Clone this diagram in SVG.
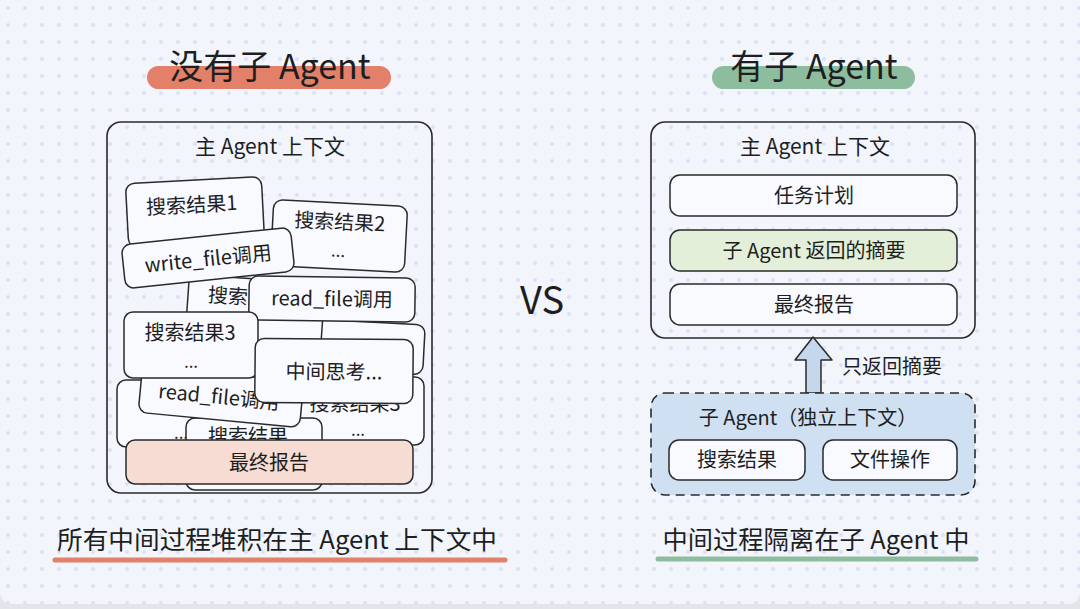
<svg xmlns="http://www.w3.org/2000/svg" width="1080" height="609" viewBox="0 0 1080 609">
<defs>
<pattern id="dots" width="17" height="17" patternUnits="userSpaceOnUse">
<circle cx="8" cy="8" r="2" fill="#dce1f5"/>
<circle cx="0" cy="0" r="1" fill="#f3f1dc"/>
</pattern>
<style>
.t{font-family:"Noto Sans CJK SC","Noto Sans",sans-serif;fill:#1e1e1e;text-anchor:middle}
.card{fill:#f9faff;stroke:#2a2a2a;stroke-width:1.5}
.box{fill:none;stroke:#2a2a2a;stroke-width:1.6}
.c20{font-size:20px}
.dd{font-size:17px}
</style>
</defs>
<rect width="1080" height="609" fill="#e4e5e9"/>
<path d="M0 0H1080V591Q1080 604 1067 604H13Q0 604 0 591Z" fill="#f2f5fc"/>
<path d="M0 0H1080V591Q1080 604 1067 604H13Q0 604 0 591Z" fill="url(#dots)"/>

<g id="title-left">
<rect x="147" y="66" width="244" height="23" rx="11.5" fill="#e2806a"/>
<text class="t" x="270" y="79" font-size="34">没有子 Agent</text>
</g>
<g id="title-right">
<rect x="712" y="66" width="203" height="23" rx="11.5" fill="#8dbc9f"/>
<text class="t" x="814" y="79" font-size="34">有子 Agent</text>
</g>

<g id="left-main">
<rect class="box" x="107" y="122" width="325" height="371" rx="14"/>
<text class="t" x="270" y="154" font-size="21">主 Agent 上下文</text>
</g>

<g id="left-stack">
<g id="card-b-left" transform="translate(181 413)"><rect class="card" x="-64" y="-33" width="128" height="67" rx="9"/><text class="t dd" x="0" y="26">...</text></g>
<g id="card-b-right" transform="translate(358 411)"><rect class="card" x="-66" y="-34" width="132" height="68" rx="9"/><text class="t c20" x="-3" y="0">搜索结果3</text><text class="t dd" x="0" y="25">...</text></g>
<g id="card-a" transform="translate(254 454)"><rect class="card" x="-68" y="-36" width="136" height="72" rx="9"/><text class="t c20" x="-6" y="-10">搜索结果</text></g>
<g id="card-c" transform="translate(221 397) rotate(5.4)"><rect class="card" x="-81" y="-23" width="162" height="46" rx="9"/><text class="t c20" x="-2" y="7">read_file调用</text></g>
<g id="card-k" transform="translate(370 347) rotate(3)"><rect class="card" x="-54" y="-25" width="108" height="50" rx="9"/></g>
<g id="card-d" transform="translate(255 312) rotate(4)"><rect class="card" x="-68" y="-33" width="136" height="66" rx="9"/><text class="t c20" x="-8" y="-7">搜索结果</text></g>
<g id="card-e" transform="translate(195 212) rotate(-3)"><rect class="card" x="-68" y="-32" width="136" height="64" rx="9"/><text class="t c20" x="-3" y="0">搜索结果1</text></g>
<g id="card-f" transform="translate(339 236) rotate(3)"><rect class="card" x="-67" y="-33" width="134" height="66" rx="9"/><text class="t c20" x="0" y="-7">搜索结果2</text><text class="t dd" x="0" y="21">...</text></g>
<g id="card-g" transform="translate(208 258) rotate(-6)"><rect class="card" x="-85" y="-22" width="170" height="44" rx="9"/><text class="t c20" x="0" y="8">write_file调用</text></g>
<g id="card-h" transform="translate(332 299) rotate(0.8)"><rect class="card" x="-83" y="-22" width="166" height="44" rx="9"/><text class="t c20" x="0" y="7">read_file调用</text></g>
<g id="card-i" transform="translate(191 345)"><rect class="card" x="-67" y="-33" width="134" height="66" rx="9"/><text class="t c20" x="-1" y="-5">搜索结果3</text><text class="t dd" x="0" y="23">...</text></g>
<g id="card-j" transform="translate(334 371) rotate(0.5)"><rect class="card" x="-79" y="-32" width="158" height="64" rx="9"/><text class="t c20" x="0" y="8">中间思考...</text></g>
<g id="left-final"><rect x="126" y="440" width="287" height="44" rx="9" fill="#f6dcd3" stroke="#2a2a2a" stroke-width="1.5"/><text class="t c20" x="269" y="470">最终报告</text></g>
</g>

<g id="vs"><text class="t" x="542" y="314" font-size="38" font-family="Liberation Sans, sans-serif">VS</text></g>

<g id="right-main">
<rect class="box" x="651" y="122" width="324" height="216" rx="14"/>
<text class="t" x="815" y="154" font-size="21">主 Agent 上下文</text>
</g>
<g id="item-plan"><rect x="670" y="175" width="287" height="41" rx="10" fill="#f9faff" stroke="#2a2a2a" stroke-width="1.5"/><text class="t c20" x="814" y="203">任务计划</text></g>
<g id="item-summary"><rect x="670" y="230" width="287" height="41" rx="10" fill="#e3efd9" stroke="#2a2a2a" stroke-width="1.5"/><text class="t c20" x="814" y="258">子 Agent 返回的摘要</text></g>
<g id="item-final"><rect x="670" y="284" width="287" height="41" rx="10" fill="#f9faff" stroke="#2a2a2a" stroke-width="1.5"/><text class="t c20" x="814" y="312">最终报告</text></g>

<g id="connectors">
<path d="M813 337L832 360H821V393H806V360H795Z" fill="#c4d7ec" stroke="#2a2a2a" stroke-width="1.5" stroke-linejoin="round"/>
<text class="t c20" x="842" y="374" style="text-anchor:start">只返回摘要</text>
</g>

<g id="sub-agent">
<rect x="651" y="393" width="324" height="102" rx="14" fill="#cfe0f3" stroke="#2a2a2a" stroke-width="1.6" stroke-dasharray="9 6"/>
<text class="t c20" x="808" y="425">子 Agent（独立上下文）</text>
</g>
<g id="sub-search"><rect x="669" y="440" width="136" height="40" rx="10" fill="#f9faff" stroke="#2a2a2a" stroke-width="1.5"/><text class="t c20" x="737" y="467">搜索结果</text></g>
<g id="sub-file"><rect x="823" y="440" width="134" height="40" rx="10" fill="#f9faff" stroke="#2a2a2a" stroke-width="1.5"/><text class="t c20" x="890" y="467">文件操作</text></g>

<g id="caption-left">
<text class="t" x="277" y="549" font-size="25" textLength="440" lengthAdjust="spacingAndGlyphs">所有中间过程堆积在主 Agent 上下文中</text>
<line x1="55" y1="560" x2="505" y2="560" stroke="#e2806a" stroke-width="5" stroke-linecap="round"/>
</g>
<g id="caption-right">
<text class="t" x="816" y="549" font-size="25" textLength="307" lengthAdjust="spacingAndGlyphs">中间过程隔离在子 Agent 中</text>
<line x1="658" y1="559" x2="976" y2="559" stroke="#8dbc9f" stroke-width="5" stroke-linecap="round"/>
</g>
</svg>
